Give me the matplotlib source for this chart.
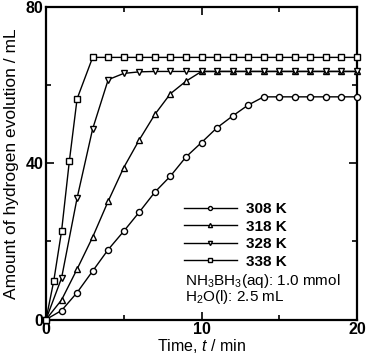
import numpy as np
import matplotlib
matplotlib.use("Agg")
import matplotlib.pyplot as plt

plt.rcParams['font.family'] = ['Liberation Sans', 'DejaVu Sans']
plt.rcParams['mathtext.fontset'] = 'custom'
plt.rcParams['mathtext.rm'] = 'Liberation Sans'
plt.rcParams['mathtext.it'] = 'Liberation Sans:italic'
plt.rcParams['mathtext.bf'] = 'Liberation Sans:bold'

# data (time / min, volume / mL)
t_308 = list(range(0, 21))
v_308 = [0, 2.3, 6.9, 12.4, 17.9, 22.6, 27.5, 32.6, 36.7, 41.6, 45.3,
         49.1, 52.1, 54.9, 57.0, 57.0, 57.0, 57.0, 57.0, 57.0, 57.0]

t_318 = list(range(0, 21))
v_318 = [0, 5.0, 12.9, 21.1, 30.3, 38.9, 46.0, 52.5, 57.8, 61.0, 63.5,
         63.5, 63.5, 63.5, 63.5, 63.5, 63.5, 63.5, 63.5, 63.5, 63.5]

t_328 = list(range(0, 21))
v_328 = [0, 10.6, 31.1, 48.8, 61.4, 63.0, 63.4, 63.5, 63.5, 63.5, 63.5,
         63.5, 63.5, 63.5, 63.5, 63.5, 63.5, 63.5, 63.5, 63.5, 63.5]

t_338 = [0, 0.5, 1, 1.5, 2] + list(range(3, 21))
v_338 = [0, 9.9, 22.6, 40.5, 56.5] + [67.1] * 18

labels = ["308 K", "318 K", "328 K", "338 K"]
markers = ["o", "^", "v", "s"]
msizes = [4.4, 4.6, 4.6, 3.7]

fig = plt.figure(figsize=(3.69, 3.56), dpi=100)
ax = fig.add_axes([46/369, 1 - 319.5/356, 311/369, 312.5/356])

series = [(t_308, v_308), (t_318, v_318), (t_328, v_328), (t_338, v_338)]
for (t, v), lab, mk, ms in zip(series, labels, markers, msizes):
    ax.plot(t, v, color="black", lw=1.0, marker=mk, ms=ms, mfc="white",
            mec="black", mew=1.0, label=lab, clip_on=False, zorder=3)

ax.set_xlim(0, 20)
ax.set_ylim(0, 80)
ax.set_xticks([0, 10, 20])
ax.set_xticks([5, 15], minor=True)
ax.set_yticks([0, 40, 80])
ax.set_yticks([20, 60], minor=True)
ax.tick_params(which="both", direction="in", top=True, right=True,
               labelsize=11.5, width=1.2)
ax.tick_params(which="major", length=6, pad=2)
ax.tick_params(which="minor", length=3.5)
for lab in ax.get_xticklabels() + ax.get_yticklabels():
    lab.set_fontweight("bold")
for s in ax.spines.values():
    s.set_linewidth(1.6)

ax.set_xlabel("Time, $t$ / min", fontsize=11.5, labelpad=0)
ax.set_ylabel("Amount of hydrogen evolution / mL", fontsize=12.5)
ax.yaxis.set_label_coords(-0.088, 0.5)

leg = ax.legend(loc="upper left", bbox_to_anchor=(138/311, 1 - (202 - 7)/312.5),
                frameon=False, handlelength=3.45, handletextpad=0.6,
                labelspacing=0.23, borderpad=0, borderaxespad=0, markerscale=0.65,
                prop={"weight": "bold", "size": 11})

ax.text(139/311, 1 - (281 - 7)/312.5, "NH$_3$BH$_3$(aq): 1.0 mmol",
        transform=ax.transAxes, fontsize=11, va="center", ha="left")
ax.text(139/311, 1 - (297.5 - 7)/312.5, "H$_2$O(l): 2.5 mL",
        transform=ax.transAxes, fontsize=11, va="center", ha="left")

fig.savefig("out.png", dpi=100)
